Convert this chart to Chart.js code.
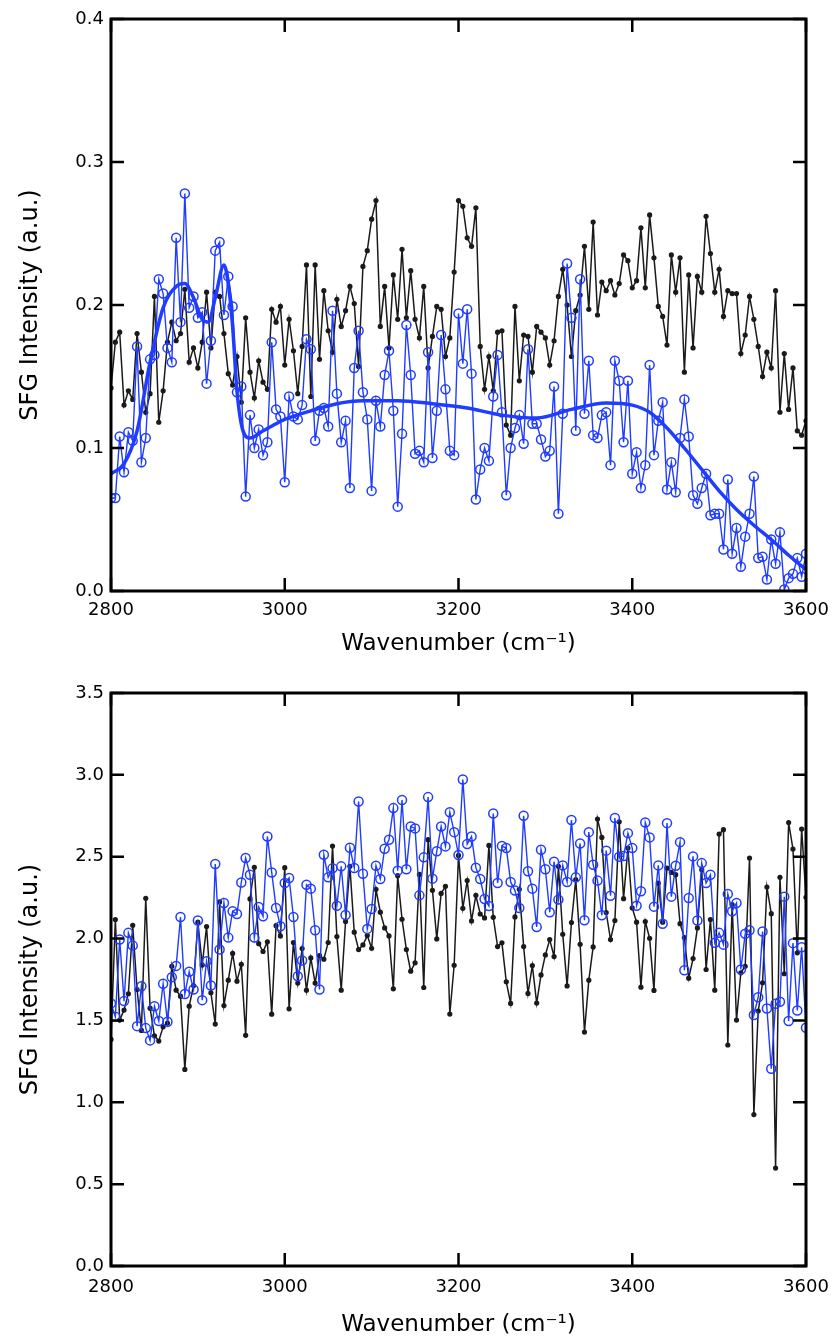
<!DOCTYPE html>
<html>
<head>
<meta charset="utf-8">
<script src="https://cdn.jsdelivr.net/npm/chart.js@4.4.1/dist/chart.umd.min.js"></script>
<style>
  html, body { margin: 0; padding: 0; background: #fff; }
  #wrap { position: relative; width: 833px; height: 1342px; }
  #top-box { position: absolute; left: 0; top: 0; }
  #bot-box { position: absolute; left: 0; top: 660px; }
</style>
</head>
<body>
<div id="wrap">
  <div id="top-box"><canvas id="top-chart" width="833" height="660"></canvas></div>
  <div id="bot-box"><canvas id="bot-chart" width="833" height="682"></canvas></div>
</div>
<script>
// wavenumber grid, 2800..3600 step 5 cm-1
const wavenumber = [];
for (let w = 2800; w <= 3600; w += 5) wavenumber.push(w);

// top panel
const topBlack = [
  0.142,0.174,0.181,0.130,0.140,0.134,0.180,0.153,0.125,0.138,
  0.206,0.118,0.140,0.174,0.188,0.175,0.180,0.211,0.160,0.170,
  0.156,0.174,0.209,0.170,0.209,0.206,0.180,0.152,0.144,0.164,
  0.132,0.191,0.153,0.135,0.161,0.146,0.141,0.197,0.188,0.199,
  0.158,0.190,0.168,0.138,0.171,0.228,0.136,0.228,0.162,0.210,
  0.182,0.167,0.204,0.185,0.196,0.213,0.201,0.157,0.227,0.238,
  0.260,0.273,0.185,0.213,0.170,0.221,0.190,0.239,0.191,0.224,
  0.190,0.177,0.213,0.156,0.178,0.199,0.197,0.164,0.177,0.223,
  0.273,0.269,0.247,0.241,0.268,0.171,0.141,0.164,0.140,0.181,
  0.182,0.116,0.109,0.199,0.147,0.179,0.178,0.153,0.185,0.181,
  0.177,0.158,0.175,0.206,0.225,0.200,0.164,0.196,0.207,0.241,
  0.197,0.258,0.193,0.216,0.210,0.217,0.207,0.215,0.235,0.231,
  0.212,0.217,0.254,0.212,0.263,0.233,0.199,0.192,0.172,0.235,
  0.209,0.233,0.153,0.221,0.170,0.220,0.209,0.262,0.236,0.209,
  0.225,0.192,0.210,0.208,0.208,0.166,0.179,0.206,0.190,0.171,
  0.150,0.167,0.156,0.210,0.125,0.166,0.127,0.156,0.112,0.109,
  0.119
];
const topBlue = [
  0.065,0.065,0.108,0.083,0.111,0.105,0.171,0.090,0.107,0.162,
  0.165,0.218,0.208,0.170,0.160,0.247,0.188,0.278,0.198,0.206,
  0.191,0.195,0.145,0.175,0.238,0.244,0.193,0.220,0.199,0.139,
  0.143,0.066,0.123,0.100,0.113,0.095,0.104,0.174,0.127,0.122,
  0.076,0.136,0.122,0.120,0.130,0.176,0.169,0.105,0.126,0.128,
  0.115,0.196,0.138,0.104,0.119,0.072,0.156,0.182,0.139,0.120,
  0.070,0.133,0.115,0.151,0.168,0.126,0.059,0.110,0.186,0.151,
  0.096,0.098,0.090,0.167,0.093,0.126,0.179,0.141,0.098,0.095,
  0.194,0.159,0.197,0.152,0.064,0.085,0.100,0.091,0.136,0.165,
  0.125,0.067,0.100,0.114,0.123,0.103,0.169,0.117,0.117,0.106,
  0.094,0.098,0.143,0.054,0.124,0.229,0.191,0.112,0.218,0.124,
  0.161,0.109,0.107,0.123,0.125,0.088,0.161,0.147,0.104,0.147,
  0.082,0.097,0.072,0.088,0.158,0.095,0.119,0.132,0.071,0.090,
  0.069,0.107,0.134,0.108,0.067,0.061,0.072,0.082,0.053,0.054,
  0.054,0.029,0.078,0.026,0.044,0.017,0.038,0.054,0.080,0.023,
  0.024,0.008,0.036,0.019,0.041,0.001,0.009,0.012,0.023,0.010,
  0.026
];
// smooth fit through the blue data
const fitX = [2800,2815,2830,2845,2860,2875,2885,2895,2905,2912,2920,2930,2935,2940,2945,2952,2960,2975,2990,3000,
              3030,3060,3090,3130,3170,3210,3250,3290,3330,3370,3400,3420,3440,3460,3480,3500,3520,3540,3560,3580,3600];
const fitY = [0.082,0.089,0.112,0.160,0.198,0.213,0.215,0.205,0.190,0.188,0.205,0.228,0.215,0.185,0.140,0.112,0.107,0.112,0.117,0.120,
              0.126,0.131,0.133,0.133,0.131,0.128,0.123,0.121,0.127,0.1315,0.130,0.125,0.114,0.100,0.085,0.070,0.057,0.046,0.036,0.025,0.015];

// bottom panel
const botBlack = [
  1.384,2.116,1.502,1.563,1.663,2.081,1.689,1.439,2.246,1.575,
  1.406,1.374,1.461,1.484,1.831,1.685,1.648,1.201,1.587,1.713,
  2.100,1.839,2.073,1.669,1.478,2.224,1.591,1.746,1.909,1.740,
  1.843,1.409,2.242,2.435,1.969,1.921,1.980,1.538,2.079,2.016,
  2.433,1.571,1.976,1.728,1.939,1.685,1.882,1.728,1.896,1.874,
  1.976,2.565,2.012,1.685,2.104,2.441,2.039,1.933,1.961,2.018,
  1.941,2.301,2.161,2.065,2.016,1.693,2.384,2.118,1.933,1.801,
  1.852,2.392,1.701,2.604,2.295,1.998,2.276,2.319,1.539,1.837,
  2.508,2.185,2.354,2.108,2.264,2.150,2.126,2.569,2.130,1.951,
  1.974,1.736,1.604,2.132,2.301,1.951,1.665,1.835,1.606,1.778,
  1.900,1.994,1.890,2.441,2.026,1.711,2.098,2.360,1.965,1.429,
  1.746,1.949,2.730,2.618,2.159,1.994,2.110,2.713,2.244,2.553,
  2.187,2.100,1.703,2.104,2.002,1.683,2.339,2.100,2.431,2.404,
  2.390,2.091,2.006,1.758,1.878,2.065,2.421,1.811,2.116,1.685,
  2.638,2.665,1.350,2.207,1.502,1.791,1.831,2.492,0.925,1.557,
  1.730,2.315,2.152,0.598,2.374,1.785,2.709,2.547,1.913,2.669,
  2.252
];
const botBlue = [
  1.604,1.522,1.994,1.618,2.035,1.957,1.465,1.709,1.453,1.378,
  1.587,1.496,1.724,1.492,1.764,1.833,2.132,1.661,1.797,1.689,
  2.110,1.624,1.862,1.713,2.455,1.933,2.217,2.006,2.167,2.150,
  2.343,2.492,2.390,2.006,2.193,2.136,2.624,2.404,2.187,2.075,
  2.339,2.370,2.132,1.770,1.866,2.329,2.305,2.051,1.689,2.512,
  2.374,2.429,2.201,2.441,2.144,2.555,2.431,2.837,2.396,2.059,
  2.181,2.445,2.364,2.549,2.604,2.797,2.415,2.846,2.423,2.685,
  2.673,2.264,2.496,2.864,2.366,2.533,2.685,2.563,2.772,2.650,
  2.510,2.972,2.577,2.624,2.433,2.364,2.242,2.199,2.764,2.339,
  2.565,2.553,2.346,2.293,2.187,2.750,2.411,2.305,2.071,2.543,
  2.423,2.161,2.470,2.238,2.447,2.346,2.724,2.374,2.581,2.112,
  2.650,2.451,2.354,2.142,2.537,2.262,2.736,2.500,2.504,2.644,
  2.553,2.201,2.289,2.709,2.618,2.195,2.447,2.091,2.705,2.256,
  2.445,2.589,1.807,2.248,2.502,2.110,2.461,2.339,2.390,1.974,
  2.035,1.963,2.272,2.167,2.217,1.811,2.029,2.051,1.533,1.642,
  2.043,1.573,1.205,1.602,1.614,2.256,1.496,1.972,1.561,1.947,
  1.455
];

const BLACK = '#1a1a1a';
const BLUE = '#1f3cff';
const FONT = 'DejaVu Sans';

function pts(xs, ys) {
  return xs.map((x, i) => ({ x: x, y: ys[i] }));
}

// box frame + inward ticks on all four sides
const framePlugin = {
  id: 'frame',
  afterDraw(chart) {
    const { ctx, chartArea: a, scales: { x, y } } = chart;
    ctx.save();
    ctx.strokeStyle = '#000';
    ctx.lineWidth = 3;
    ctx.strokeRect(a.left, a.top, a.right - a.left, a.bottom - a.top);
    ctx.lineWidth = 2.5;
    ctx.beginPath();
    x.ticks.forEach(t => {
      const px = x.getPixelForValue(t.value);
      ctx.moveTo(px, a.bottom); ctx.lineTo(px, a.bottom - 13);
      ctx.moveTo(px, a.top); ctx.lineTo(px, a.top + 13);
    });
    y.ticks.forEach(t => {
      const py = y.getPixelForValue(t.value);
      ctx.moveTo(a.left, py); ctx.lineTo(a.left + 13, py);
      ctx.moveTo(a.right, py); ctx.lineTo(a.right - 13, py);
    });
    ctx.stroke();
    ctx.restore();
  }
};

function makeOptions(cfg) {
  return {
    responsive: false,
    animation: false,
    events: [],
    layout: { padding: { left: 0, right: 27, top: cfg.padTop, bottom: 0 } },
    plugins: { legend: { display: false }, tooltip: { enabled: false } },
    scales: {
      x: {
        type: 'linear',
        min: 2800,
        max: 3600,
        grid: { display: false, drawTicks: false },
        border: { display: false },
        ticks: {
          stepSize: 200,
          color: '#000',
          padding: cfg.xTickPad,
          font: { family: FONT, size: 18 },
          callback: (v) => String(v)
        },
        title: {
          display: true,
          text: 'Wavenumber (cm⁻¹)',
          color: '#000',
          font: { family: FONT, size: 23 },
          padding: { top: 0, bottom: cfg.xTitlePad }
        },
        afterFit: (scale) => {
          scale.height = cfg.xHeight;
          scale.paddingLeft = 0;
          scale.paddingRight = 0;
        }
      },
      y: {
        min: cfg.yMin,
        max: cfg.yMax,
        grid: { display: false, drawTicks: false },
        border: { display: false },
        ticks: {
          stepSize: cfg.yStep,
          color: '#000',
          padding: 7,
          font: { family: FONT, size: 18 },
          callback: (v) => Number(v).toFixed(1)
        },
        title: {
          display: true,
          text: 'SFG Intensity (a.u.)',
          color: '#000',
          font: { family: FONT, size: 24 },
          padding: { top: 16, bottom: 0 }
        },
        afterFit: (scale) => {
          scale.width = 111;
          scale.paddingTop = 0;
          scale.paddingBottom = 0;
        }
      }
    }
  };
}

const blackStyle = {
  borderColor: BLACK,
  backgroundColor: BLACK,
  borderWidth: 1.5,
  pointRadius: 2.6,
  pointBorderWidth: 0,
  pointBackgroundColor: BLACK,
  tension: 0,
  order: 2
};
const blueStyle = {
  borderColor: BLUE,
  backgroundColor: 'rgba(0,0,0,0)',
  borderWidth: 1.4,
  pointRadius: 4.5,
  pointBorderWidth: 1.5,
  pointBorderColor: BLUE,
  pointBackgroundColor: 'rgba(0,0,0,0)',
  tension: 0,
  order: 1
};

new Chart(document.getElementById('top-chart').getContext('2d'), {
  type: 'line',
  data: {
    datasets: [
      Object.assign({ label: 'sample', data: pts(wavenumber, topBlack) }, blackStyle),
      Object.assign({ label: 'reference', data: pts(wavenumber, topBlue) }, blueStyle),
      {
        label: 'fit',
        data: pts(fitX, fitY),
        borderColor: BLUE,
        borderWidth: 3.5,
        pointRadius: 0,
        cubicInterpolationMode: 'monotone',
        order: 0
      }
    ]
  },
  options: makeOptions({ padTop: 19, xHeight: 69, xTickPad: 9, xTitlePad: 2, yMin: 0, yMax: 0.4, yStep: 0.1 }),
  plugins: [framePlugin]
});

new Chart(document.getElementById('bot-chart').getContext('2d'), {
  type: 'line',
  data: {
    datasets: [
      Object.assign({ label: 'sample', data: pts(wavenumber, botBlack) }, blackStyle),
      Object.assign({ label: 'reference', data: pts(wavenumber, botBlue) }, blueStyle)
    ]
  },
  options: makeOptions({ padTop: 33, xHeight: 76, xTickPad: 11, xTitlePad: 3, yMin: 0, yMax: 3.5, yStep: 0.5 }),
  plugins: [framePlugin]
});
</script>
</body>
</html>
